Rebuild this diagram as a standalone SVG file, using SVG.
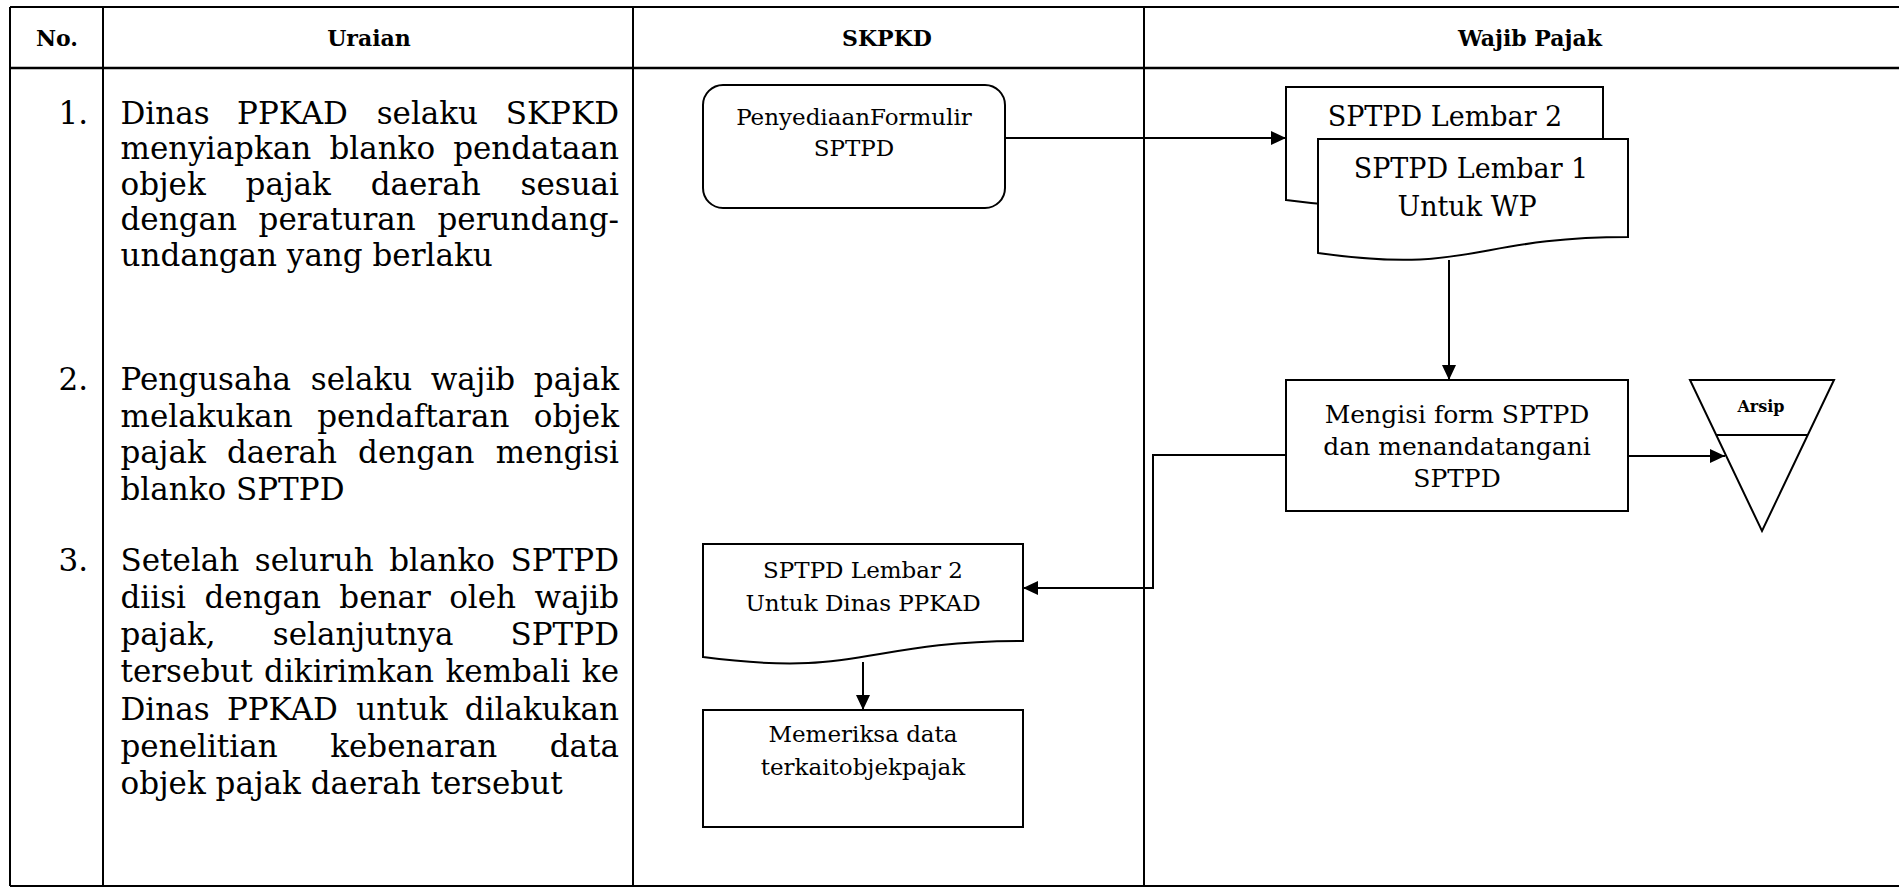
<svg xmlns="http://www.w3.org/2000/svg" width="1899" height="889" viewBox="0 0 1899 889">
  <defs>
    <marker id="arrow" markerUnits="userSpaceOnUse" markerWidth="16" markerHeight="14" refX="15" refY="7" orient="auto">
      <path d="M0,0 L15,7 L0,14 Z" fill="#000"/>
    </marker>
    <style>
      .grid { stroke: #000; stroke-width: 2; fill: none; }
      .head { font-family: "DejaVu Serif", serif; font-weight: bold; font-size: 22px; text-anchor: middle; fill: #000; }
      .body { font-family: "DejaVu Serif", serif; font-size: 31px; fill: #000; }
      .end { text-anchor: end; }
      .shape { fill: #fff; stroke: #000; stroke-width: 2; }
      .lbl { font-family: "DejaVu Serif", serif; text-anchor: middle; fill: #000; }
      .s23 { font-size: 23px; }
      .s25 { font-size: 25px; }
      .s27 { font-size: 27px; }
      .conn { fill: none; stroke: #000; stroke-width: 2; marker-end: url(#arrow); }
    </style>
  </defs>

  <rect width="1899" height="889" fill="#fff"/>

  <!-- table frame -->
  <g id="table">
    <path class="grid" d="M10,7 H1899 M10,886 H1899 M10,7 V886 M103,7 V886 M633,7 V886 M1144,7 V886"/>
    <path d="M10,68 H1899" stroke="#000" stroke-width="2.5"/>
    <text class="head" x="57" y="46">No.</text>
    <text class="head" x="369" y="46">Uraian</text>
    <text class="head" x="887" y="46">SKPKD</text>
    <text class="head" x="1530" y="46">Wajib Pajak</text>
  </g>

  <!-- step descriptions (justified lines set word by word) -->
  <g id="uraian" class="body">
    <text class="end" x="88" y="123.5">1.</text>
    <text x="120.5" y="123.5">Dinas</text>
    <text x="237.1" y="123.5">PPKAD</text>
    <text x="376.7" y="123.5">selaku</text>
    <text class="end" x="619" y="123.5">SKPKD</text>
    <text x="120.5" y="159">menyiapkan</text>
    <text x="329.4" y="159">blanko</text>
    <text class="end" x="619" y="159">pendataan</text>
    <text x="120.5" y="194.5">objek</text>
    <text x="245.6" y="194.5">pajak</text>
    <text x="370.7" y="194.5">daerah</text>
    <text class="end" x="619" y="194.5">sesuai</text>
    <text x="120.5" y="230">dengan</text>
    <text x="258.6" y="230">peraturan</text>
    <text class="end" x="619" y="230">perundang-</text>
    <text x="120.5" y="265.5">undangan yang berlaku</text>

    <text class="end" x="88" y="390">2.</text>
    <text x="120.5" y="390">Pengusaha</text>
    <text x="310.8" y="390">selaku</text>
    <text x="430.8" y="390">wajib</text>
    <text class="end" x="619" y="390">pajak</text>
    <text x="120.5" y="426.5">melakukan</text>
    <text x="317.2" y="426.5">pendaftaran</text>
    <text class="end" x="619" y="426.5">objek</text>
    <text x="120.5" y="463">pajak</text>
    <text x="227" y="463">daerah</text>
    <text x="358.1" y="463">dengan</text>
    <text class="end" x="619" y="463">mengisi</text>
    <text x="120.5" y="499.5">blanko SPTPD</text>

    <text class="end" x="88" y="570.5">3.</text>
    <text x="120.5" y="570.5">Setelah</text>
    <text x="254.8" y="570.5">seluruh</text>
    <text x="389.2" y="570.5">blanko</text>
    <text class="end" x="619" y="570.5">SPTPD</text>
    <text x="120.5" y="607.8">diisi</text>
    <text x="204.5" y="607.8">dengan</text>
    <text x="339.3" y="607.8">benar</text>
    <text x="449.2" y="607.8">oleh</text>
    <text class="end" x="619" y="607.8">wajib</text>
    <text x="120.5" y="645">pajak,</text>
    <text x="272.8" y="645">selanjutnya</text>
    <text class="end" x="619" y="645">SPTPD</text>
    <text x="120.5" y="682.3">tersebut</text>
    <text x="264.1" y="682.3">dikirimkan</text>
    <text x="445.5" y="682.3">kembali</text>
    <text class="end" x="619" y="682.3">ke</text>
    <text x="120.5" y="719.5">Dinas</text>
    <text x="226.9" y="719.5">PPKAD</text>
    <text x="356.3" y="719.5">untuk</text>
    <text class="end" x="619" y="719.5">dilakukan</text>
    <text x="120.5" y="756.8">penelitian</text>
    <text x="330.2" y="756.8">kebenaran</text>
    <text class="end" x="619" y="756.8">data</text>
    <text x="120.5" y="794">objek pajak daerah tersebut</text>
  </g>

  <!-- connectors -->
  <g id="connectors">
    <path class="conn" d="M1005,138 H1286"/>
    <path class="conn" d="M1449,260 V380"/>
    <path class="conn" d="M1628,456 H1725"/>
    <path class="conn" d="M1286,455 H1153 V588 H1023"/>
    <path class="conn" d="M863,662 V710"/>
  </g>

  <!-- SKPKD lane -->
  <g id="penyediaan-formulir">
    <rect class="shape" x="703" y="85" width="302" height="123" rx="20" ry="20"/>
    <text class="lbl s23" x="854" y="125">PenyediaanFormulir</text>
    <text class="lbl s23" x="854" y="156">SPTPD</text>
  </g>

  <g id="sptpd-lembar2-dinas">
    <path class="shape" d="M703,544 H1023 V641 C863,641 863,678 703,657 Z"/>
    <text class="lbl s23" x="863" y="578">SPTPD Lembar 2</text>
    <text class="lbl s23" x="863" y="611">Untuk Dinas PPKAD</text>
  </g>

  <g id="memeriksa-data">
    <rect class="shape" x="703" y="710" width="320" height="117"/>
    <text class="lbl s23" x="863" y="742">Memeriksa data</text>
    <text class="lbl s23" x="863" y="775">terkaitobjekpajak</text>
  </g>

  <!-- Wajib Pajak lane -->
  <g id="sptpd-lembar2">
    <path class="shape" d="M1286,87 H1603 V184 C1444,184 1444,221 1286,200 Z"/>
    <text class="lbl s27" x="1445" y="126">SPTPD Lembar 2</text>
  </g>

  <g id="sptpd-lembar1">
    <path class="shape" d="M1318,139 H1628 V237 C1473,237 1473,275 1318,253 Z"/>
    <text class="lbl s27" x="1471" y="178">SPTPD Lembar 1</text>
    <text class="lbl s27" x="1467" y="216">Untuk WP</text>
  </g>

  <g id="mengisi-form">
    <rect class="shape" x="1286" y="380" width="342" height="131"/>
    <text class="lbl s25" x="1457" y="423">Mengisi form SPTPD</text>
    <text class="lbl s25" x="1457" y="455">dan menandatangani</text>
    <text class="lbl s25" x="1457" y="487">SPTPD</text>
  </g>

  <g id="arsip">
    <path class="shape" d="M1690,380 H1834 L1762,531 Z"/>
    <path class="grid" d="M1716,435 H1808"/>
    <text class="lbl" x="1761" y="412" font-size="16" font-weight="bold">Arsip</text>
  </g>
</svg>
